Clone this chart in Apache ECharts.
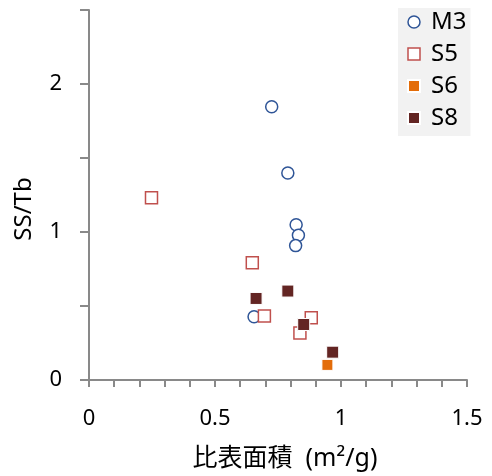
<!DOCTYPE html>
<html>
<head>
<meta charset="utf-8">
<style>
  html, body { margin: 0; padding: 0; background: #fff; }
  #chart { width: 492px; height: 476px; }
</style>
<script src="https://cdn.jsdelivr.net/npm/echarts@6/dist/echarts.min.js"></script>
</head>
<body>
<div id="chart"></div>
<script>
// data: [比表面積, SS/Tb]
const seriesNames = ['M3', 'S5', 'S6', 'S8'];
const m3Data = [[0.725, 1.846], [0.789, 1.399], [0.822, 1.049], [0.831, 0.978], [0.820, 0.908], [0.655, 0.427]];
const s5Data = [[0.248, 1.232], [0.648, 0.793], [0.696, 0.432], [0.882, 0.420], [0.837, 0.317]];
const s6Data = [[0.946, 0.102]];
const s8Data = [[0.663, 0.551], [0.789, 0.601], [0.852, 0.375], [0.967, 0.188]];
const xTickLabels = ['0', '0.5', '1', '1.5'];
const yTickLabels = ['0', '1', '2'];

const font = "'Noto Sans', 'Noto Sans CJK JP', sans-serif";
const axisColor = '#898989';

const chart = echarts.init(document.getElementById('chart'));

const isLabel = (v, list) => list.some(t => Math.abs(parseFloat(t) - v) < 1e-6);

const option = {
    animation: false,
    grid: {
        left: 89,
        right: 25,
        top: 10,
        bottom: 96
    },
    legend: {
        orient: 'vertical',
        left: 398,
        top: 8,
        backgroundColor: '#f2f2f2',
        padding: [2, 4, 6, 9],
        itemGap: 8,
        itemWidth: 12,
        itemHeight: 12,
        textStyle: { fontFamily: font, fontSize: 24, color: '#000', padding: [0, 0, 0, 6] },
        data: [
            { name: 'M3', icon: 'circle', itemStyle: { color: '#fff', borderColor: '#2f5597', borderWidth: 1.5 } },
            { name: 'S5', icon: 'rect', itemStyle: { color: '#fff', borderColor: '#c0504d', borderWidth: 1.5 } },
            { name: 'S6', icon: 'rect' },
            { name: 'S8', icon: 'rect' }
        ]
    },
    xAxis: {
        type: 'value',
        min: 0,
        max: 1.5,
        interval: 0.1,
        name: '比表面積  (m²/g)',
        nameLocation: 'middle',
        nameGap: 66,
        nameTextStyle: { fontFamily: font, fontSize: 25, color: '#000', padding: [0, 0, 0, 14] },
        axisLine: { show: true, onZero: false, lineStyle: { color: axisColor, width: 2 } },
        axisTick: { show: true, length: 7, lineStyle: { color: axisColor, width: 2 } },
        splitLine: { show: false },
        axisLabel: {
            margin: 28,
            fontFamily: font,
            fontSize: 22,
            color: '#000',
            showMinLabel: true,
            showMaxLabel: true,
            formatter: v => isLabel(v, xTickLabels) ? String(Math.round(v * 10) / 10) : ''
        }
    },
    yAxis: {
        type: 'value',
        min: 0,
        max: 2.5,
        interval: 0.5,
        name: 'SS/Tb',
        nameLocation: 'middle',
        nameGap: 53,
        nameTextStyle: { fontFamily: font, fontSize: 24, color: '#000', padding: [0, 0, 0, -28] },
        axisLine: { show: true, onZero: false, lineStyle: { color: axisColor, width: 2 } },
        axisTick: { show: true, length: 9, lineStyle: { color: axisColor, width: 2 } },
        splitLine: { show: false },
        axisLabel: {
            margin: 27,
            fontFamily: font,
            fontSize: 22,
            color: '#000',
            formatter: v => isLabel(v, yTickLabels) ? String(Math.round(v)) : ''
        }
    },
    series: [
        {
            name: 'M3',
            type: 'scatter',
            symbol: 'circle',
            symbolSize: 12,
            itemStyle: { color: '#fff', borderColor: '#2f5597', borderWidth: 1.5, opacity: 1 },
            data: m3Data
        },
        {
            name: 'S5',
            type: 'scatter',
            symbol: 'rect',
            symbolSize: 12,
            itemStyle: { color: '#fff', borderColor: '#c0504d', borderWidth: 1.5, opacity: 1 },
            data: s5Data
        },
        {
            name: 'S6',
            type: 'scatter',
            symbol: 'rect',
            symbolSize: 11,
            itemStyle: { color: '#e36c09', borderColor: '#fff', borderWidth: 1, opacity: 1 },
            data: s6Data
        },
        {
            name: 'S8',
            type: 'scatter',
            symbol: 'rect',
            symbolSize: 12,
            itemStyle: { color: '#632523', borderColor: '#fff', borderWidth: 1, opacity: 1 },
            data: s8Data
        }
    ]
};

chart.setOption(option);
</script>
</body>
</html>
